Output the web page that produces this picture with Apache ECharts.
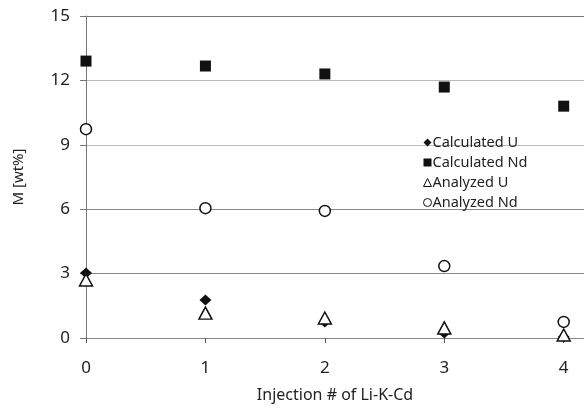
<!DOCTYPE html>
<html><head><meta charset="utf-8">
<script src="https://cdn.jsdelivr.net/npm/echarts@6/dist/echarts.min.js"></script>
<style>html,body{margin:0;padding:0;background:#fff}#c{width:584px;height:410px}</style>
</head><body><div id="c"></div>
<script>
const injections = [0, 1, 2, 3, 4];
const calcU = [3.03, 1.77, 0.75, 0.23, 0.05];
const calcNd = [12.9, 12.67, 12.3, 11.69, 10.8];
const anaU = [2.7, 1.16, 0.93, 0.47, 0.14];
const anaNd = [9.73, 6.05, 5.92, 3.35, 0.75];
const seriesNames = ['Calculated U', 'Calculated Nd', 'Analyzed U', 'Analyzed Nd'];
const yTicks = [0, 3, 6, 9, 12, 15];

const font = 'Noto Sans';
const pairs = a => injections.map((x, i) => [x, a[i]]);
const chart = echarts.init(document.getElementById('c'));
chart.setOption({
  animation: false,
  textStyle: {fontFamily: font},
  grid: {left: 86, right: 0, top: 16, bottom: 72},
  legend: {
    orient: 'vertical', left: 418, top: 130, itemGap: 5,
    itemWidth: 8, itemHeight: 8,
    textStyle: {fontSize: 14.5, color: '#222', fontFamily: font, padding: [0,0,0,-4], lineHeight: 15},
    data: seriesNames.map((n, i) => ({name: n, itemStyle: i >= 2 ? {borderWidth: 1} : {}}))
  },
  xAxis: {
    type: 'value', min: 0, max: 4.17, interval: 1,
    name: 'Injection # of Li-K-Cd', nameLocation: 'middle', nameGap: 49,
    nameTextStyle: {fontSize: 16, color: '#222'},
    axisLine: {show: false},
    axisTick: {show: true, length: 5, lineStyle: {color: '#555'}},
    axisLabel: {fontSize: 17, color: '#222', margin: 22, showMaxLabel: false,
      formatter: v => Number.isInteger(v) ? String(v) : ''},
    splitLine: {show: false}
  },
  yAxis: {
    type: 'value', min: 0, max: 15, interval: 3,
    name: 'M [wt%]', nameLocation: 'middle', nameGap: 60,
    nameTextStyle: {fontSize: 15, color: '#222'},
    axisLine: {show: true, lineStyle: {color: '#777'}},
    axisTick: {show: true, length: 6, lineStyle: {color: '#777'}},
    axisLabel: {fontSize: 17, color: '#222', margin: 16},
    splitLine: {show: true, lineStyle: {color: ['#888', '#888', '#888', '#bbb', '#bbb', '#777'], width: 1}}
  },
  series: [
    {name: seriesNames[0], type: 'scatter', data: pairs(calcU), symbol: 'diamond', symbolSize: [12, 11],
      itemStyle: {color: '#111', opacity: 1}, z: 3},
    {name: seriesNames[1], type: 'scatter', data: pairs(calcNd), symbol: 'rect', symbolSize: 11,
      itemStyle: {color: '#111', opacity: 1}, z: 3},
    {name: seriesNames[2], type: 'scatter', data: pairs(anaU), symbol: 'triangle', symbolSize: [13, 12],
      itemStyle: {color: '#fff', borderColor: '#111', borderWidth: 1.5, opacity: 1}, z: 4},
    {name: seriesNames[3], type: 'scatter', data: pairs(anaNd), symbol: 'circle', symbolSize: 11,
      itemStyle: {color: '#fff', borderColor: '#111', borderWidth: 1.5, opacity: 1}, z: 4}
  ]
});
</script></body></html>
